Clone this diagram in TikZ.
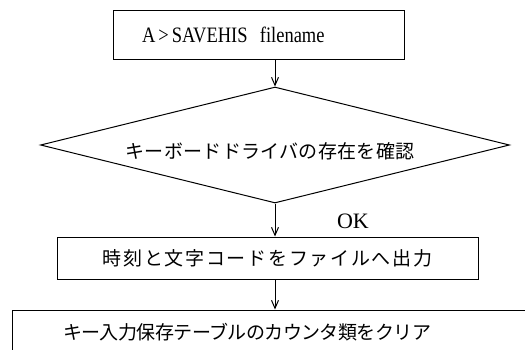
\documentclass[tikz,border=0pt]{standalone}
\usepackage{fontspec}
\setmainfont{Liberation Serif}
\newfontfamily\jp{Noto Sans CJK JP}
\usetikzlibrary{arrows.meta,shapes.geometric}
\tikzset{
  box/.style={draw, line width=1pt, rectangle, inner sep=0pt},
  cond/.style={draw, line width=1pt, diamond, inner sep=0pt, shape aspect=4},
  flow/.style={line width=1pt, -{Straight Barb[length=8pt,width=7pt]}},
  lat/.style={font=\fontsize{22}{24}\selectfont},
  jpt/.style={font=\fontsize{19}{21}\selectfont\jp}
}
\begin{document}
\begin{tikzpicture}[x=1pt,y=-1pt]
\useasboundingbox (0,0) rectangle (525,349);
\clip (0,0) rectangle (525,349);
\fill[white] (0,0) rectangle (525,349);
% top box
\node[box, lat, minimum width=291pt, minimum height=49pt, text width=233pt, align=left, inner xsep=29pt] (start) at (258.5,34.5) {\scalebox{0.84}[1]{A\,>\,SAVEHIS\ \ filename}};
% decision
\node[cond, minimum width=469pt, minimum height=116pt] (chk) at (275,145) {};
\node[jpt] (chktext) at (270,151) {\addfontfeatures{LetterSpace=1.5}キーボードドライバの存在を確認};
% box 2
\node[box, jpt, minimum width=421pt, minimum height=42pt] (out) at (267.5,258) {\addfontfeatures{LetterSpace=9}時刻と文字コードをファイルへ出力};
% box 3 (runs past the right and bottom edges)
\node[box, jpt, minimum width=560pt, minimum height=44pt, text width=458pt, align=left, inner xsep=51pt] (clr) at (292,332) {\addfontfeatures{LetterSpace=-3}キー入力保存テーブルのカウンタ類をクリア};
% connectors
\draw[flow] (start.south -| chk.north) -- (chk.north);
\draw[flow] (chk.south) -- (chk.south |- out.north);
\draw[flow] (out.south -| chk.south) -- (clr.north -| chk.south);
\node[lat] (ok) at (353,221) {OK};
\end{tikzpicture}
\end{document}
